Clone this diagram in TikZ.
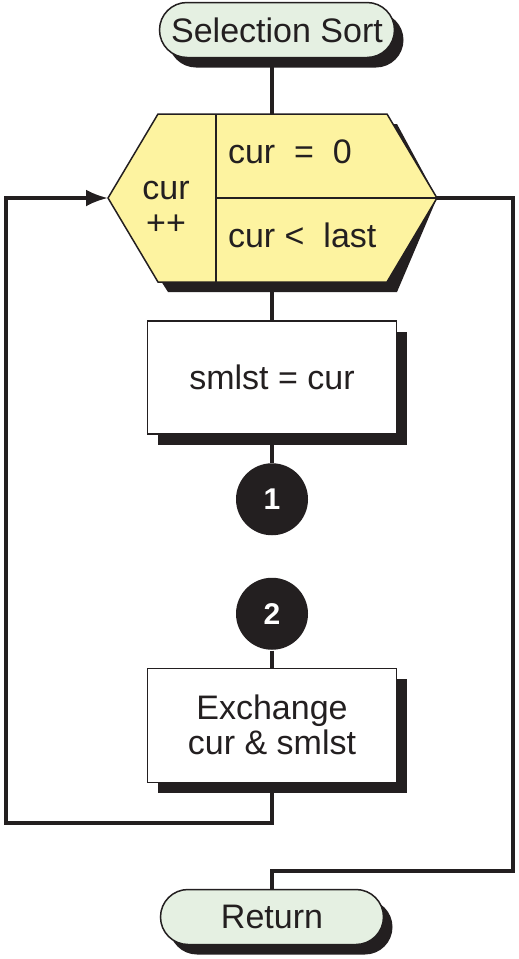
\documentclass[tikz,border=0pt]{standalone}
\usepackage{fontspec}
\setmainfont{Liberation Sans}
\usetikzlibrary{shapes.misc,arrows.meta,positioning,shadows}
\definecolor{ink}{RGB}{35,31,32}
\definecolor{termgreen}{RGB}{229,240,226}
\definecolor{loopyellow}{RGB}{253,243,160}

\begin{document}
\begin{tikzpicture}[
    x=1pt, y=-1pt,
    color=ink,
    font=\fontsize{34}{35}\selectfont,
    line width=1.5pt,
    terminal/.style={rounded rectangle, draw, fill=termgreen, minimum height=55pt, inner sep=0pt,
        drop shadow={shadow xshift=9pt, shadow yshift=-10pt, fill=ink, opacity=1}},
    stepbox/.style={rectangle, draw, fill=white, minimum width=249pt, minimum height=113pt, align=center,
        drop shadow={shadow xshift=10pt, shadow yshift=-11pt, fill=ink, opacity=1}},
    offpage/.style={circle, fill=ink, minimum size=72pt, inner sep=0pt, text=white,
        font=\fontsize{30}{30}\selectfont\bfseries},
    flow/.style={line width=3.5pt}
]
    \useasboundingbox (0,0) rectangle (519,959);

    % for loop header
    \coordinate (hexW) at (108,198);
    \coordinate (hexE) at (437,198);
    \coordinate (hexN) at (272,114);
    \coordinate (hexS) at (272,282);
    \fill[ink, shift={(10,10)}] (hexW) -- (158,114) -- (387,114) -- (hexE) -- (387,282) -- (158,282) -- cycle;
    \filldraw[fill=loopyellow] (hexW) -- (158,114) -- (387,114) -- (hexE) -- (387,282) -- (158,282) -- cycle;
    \draw (216,114) -- (216,282);
    \draw (216,198) -- (hexE);
    \node[align=center] (incr) at (166,208) {cur\\++};
    \node[anchor=base west] (init) at (224,163) {cur\ \ =\ \ 0};
    \node[anchor=base west] (cond) at (224,247) {cur <\ \ last};

    % terminals
    \node[terminal, minimum width=235pt] (start) at (277,30) {Selection Sort};
    \node[terminal, minimum width=223pt] (done) at (272,917) {Return};

    % loop body
    \node[stepbox, below=38pt of hexS] (setmin) {smlst = cur};
    \node[offpage, below=28pt of setmin] (conn1) {1};
    \node[offpage, below=41pt of conn1] (conn2) {2};
    \node[stepbox, below=17pt of conn2, minimum height=114pt] (swap) {Exchange\\cur \& smlst};

    \coordinate (loopbot) at (6,823);
    \coordinate (exitR) at (513,871);

    \draw[flow] (hexN |- start.south) -- (hexN);
    \draw[flow] (hexS) -- (setmin);
    \draw[flow] (setmin) -- (conn1);
    \draw[flow] (conn2) -- (swap);
    \draw[flow, -{Latex[length=22pt,width=17pt]}] (swap.south) |- (loopbot) |- (hexW);
    \draw[flow] (hexE) -| (exitR) -| (done.north);
\end{tikzpicture}
\end{document}
